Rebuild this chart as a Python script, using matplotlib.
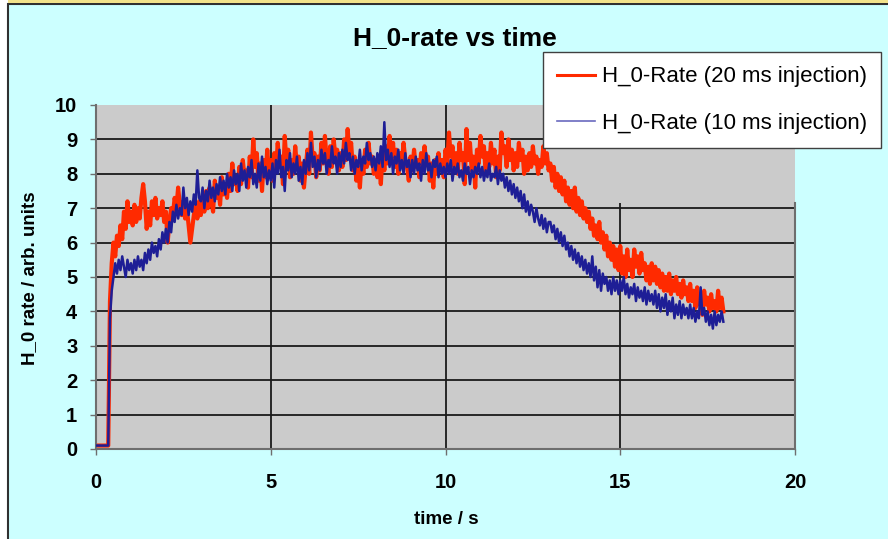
import numpy as np
import matplotlib
matplotlib.use("Agg")
import matplotlib.pyplot as plt
from matplotlib.lines import Line2D
from matplotlib.patches import Rectangle

plt.rcParams['font.family'] = ['Liberation Sans', 'DejaVu Sans']

#%% data: H_0 rate sampled every 50 ms, one row per second

dt = 0.05

rate_20ms = [
    0.1, 0.1, 0.1, 0.1, 0.1, 0.1, 0.1, 0.1, 4.3, 5.4, 6.0, 5.6, 6.2, 5.9, 6.5, 6.1, 6.9, 6.4, 7.2, 6.6,
    6.9, 6.5, 7.1, 6.6, 7.0, 6.7, 7.3, 7.7, 7.2, 6.4, 6.9, 6.5, 7.2, 6.8, 7.3, 6.7, 7.0, 6.8, 7.2, 6.6,
    6.9, 6.0, 6.6, 7.0, 6.8, 7.3, 7.0, 7.6, 7.1, 6.8, 7.2, 6.7, 7.0, 6.5, 6.0, 6.4, 6.8, 7.1, 6.7, 7.2,
    6.8, 7.3, 6.9, 7.5, 7.0, 7.6, 7.2, 6.9, 7.8, 7.3, 7.6, 7.1, 7.9, 7.4, 7.7, 7.3, 8.0, 7.5, 8.3, 7.7,
    7.9, 7.5, 8.2, 7.7, 8.4, 7.9, 8.1, 7.6, 8.5, 7.9, 9.0, 8.2, 8.6, 7.8, 8.3, 7.5, 8.4, 7.9, 8.7, 8.0,
    8.4, 7.8, 8.6, 8.1, 8.9, 8.2, 8.5, 7.7, 9.1, 8.3, 8.7, 7.9, 8.4, 8.0, 8.8, 8.2, 8.5, 7.8, 8.3, 7.6,
    8.2, 8.7, 8.0, 9.2, 8.4, 8.6, 7.9, 8.5, 8.1, 8.9, 8.3, 9.1, 8.4, 8.0, 8.8, 8.2, 9.0, 8.5, 8.7, 8.1,
    8.6, 8.2, 9.0, 8.4, 9.3, 8.6, 8.9, 8.1, 8.5, 7.8, 8.3, 7.6, 8.4, 8.0, 8.7, 8.2, 8.9, 8.3, 8.5, 8.0,
    8.4, 7.9, 8.3, 7.7, 8.6, 8.1, 8.8, 8.3, 9.1, 8.5, 8.9, 8.2, 8.7, 8.0, 8.6, 8.3, 8.9, 8.4, 8.2, 7.8,
    8.5, 8.1, 8.7, 8.2, 8.4, 7.9, 8.6, 8.2, 8.8, 8.3, 8.5, 7.8, 8.3, 7.6, 8.4, 8.0, 8.6, 8.1, 8.4, 7.9,
    8.7, 8.3, 9.2, 8.5, 8.8, 8.2, 8.6, 8.0, 8.9, 8.4, 8.6, 7.7, 9.3, 8.4, 8.9, 8.1, 8.5, 7.6, 8.7, 8.3,
    9.1, 8.5, 8.8, 8.0, 8.6, 8.2, 8.9, 8.3, 8.7, 7.9, 8.5, 8.1, 9.2, 8.6, 8.8, 8.2, 9.0, 8.4, 8.7, 8.1,
    8.6, 8.2, 8.9, 8.4, 8.7, 8.0, 8.5, 8.1, 8.6, 8.2, 8.8, 8.3, 8.5, 8.0, 8.4, 8.2, 8.8, 8.3, 8.6, 8.1,
    8.3, 7.8, 8.2, 7.6, 8.0, 7.5, 7.9, 7.4, 7.8, 7.2, 7.6, 7.1, 7.5, 7.0, 7.6, 6.9, 7.3, 6.8, 7.2, 6.7,
    7.0, 6.6, 6.9, 6.4, 6.7, 6.2, 6.5, 6.1, 6.6, 6.0, 6.3, 5.8, 6.2, 5.6, 6.0, 5.5, 5.9, 5.3, 5.8, 5.2,
    5.9, 5.1, 5.6, 5.0, 5.8, 5.2, 5.5, 5.0, 5.8, 5.3, 5.6, 5.1, 5.7, 5.2, 5.4, 4.9, 5.3, 4.8, 5.4, 4.9,
    5.3, 4.8, 5.2, 4.7, 5.1, 4.6, 5.0, 4.6, 5.1, 4.5, 4.9, 4.6, 5.0, 4.5, 4.8, 4.4, 4.9, 4.5, 4.7, 4.3,
    4.8, 4.3, 4.6, 4.1, 4.7, 4.2, 4.5, 3.9, 4.6, 4.2, 4.4, 4.0, 4.5, 4.1, 4.3, 4.0, 4.6, 4.1, 4.4, 4.0,
]

rate_10ms = [
    0.1, 0.1, 0.1, 0.1, 0.1, 0.1, 0.1, 0.1, 3.8, 4.6, 5.0, 5.4, 5.1, 5.5, 5.2, 5.6, 5.3, 5.0, 5.5, 5.2,
    5.4, 5.1, 5.5, 5.2, 5.6, 5.3, 5.5, 5.2, 5.7, 5.4, 5.8, 5.5, 6.0, 5.7, 5.9, 5.6, 6.1, 5.8, 6.3, 6.0,
    6.4, 6.0, 6.6, 6.3, 6.9, 6.6, 7.1, 6.7, 7.0, 6.8, 7.6, 7.0, 7.3, 6.8, 7.2, 6.9, 7.4, 7.1, 8.1, 7.3,
    7.2, 7.6, 7.0, 7.5, 7.2, 7.8, 7.3, 7.6, 7.2, 7.7, 7.4, 7.9, 7.5, 7.8, 7.4, 8.0, 7.6, 7.9, 7.5, 8.1,
    7.7, 8.0, 7.5, 8.3, 7.8, 8.1, 7.6, 8.2, 7.9, 8.4, 7.7, 8.0, 7.6, 8.3, 7.8, 8.5, 7.9, 8.2, 7.7, 8.1,
    7.8, 8.3, 7.6, 8.4, 8.0, 8.7, 7.9, 8.2, 7.5, 8.4, 8.1, 8.6, 7.9, 8.3, 8.0, 8.5, 7.8, 8.2, 7.7, 8.4,
    8.0, 8.6, 8.1, 8.9, 8.2, 8.5, 7.9, 8.4, 8.1, 8.7, 8.3, 8.6, 8.0, 8.4, 8.2, 8.8, 8.3, 8.5, 8.0, 8.6,
    8.2, 8.7, 8.3, 8.9, 8.4, 8.6, 8.1, 8.5, 8.0, 8.4, 8.2, 8.7, 8.1, 8.5, 8.3, 8.9, 8.4, 8.6, 8.2, 8.5,
    8.1, 8.6, 8.3, 8.8, 8.2, 9.5, 8.4, 8.7, 8.2, 8.6, 8.0, 8.5, 8.3, 8.7, 8.1, 8.4, 8.0, 8.6, 8.2, 8.4,
    7.9, 8.4, 8.0, 8.5, 8.1, 8.3, 7.8, 8.4, 8.0, 8.6, 8.1, 8.3, 7.9, 8.4, 8.2, 8.5, 7.9, 8.3, 8.0, 8.2,
    7.9, 8.3, 8.0, 8.4, 7.8, 8.2, 8.0, 8.3, 7.9, 8.1, 7.8, 8.3, 8.0, 8.2, 7.7, 8.1, 7.9, 8.2, 8.0, 8.3,
    7.9, 8.2, 7.8, 8.1, 7.9, 8.3, 7.8, 8.0, 7.9, 8.2, 7.7, 8.1, 7.8, 8.0, 7.6, 7.9, 7.5, 7.8, 7.4, 7.7,
    7.3, 7.6, 7.2, 7.5, 7.0, 7.4, 6.9, 7.2, 6.8, 7.1, 6.9, 6.6, 7.0, 6.7, 6.5, 6.8, 6.4, 6.7, 6.3, 6.6,
    6.6, 6.3, 6.5, 6.1, 6.4, 6.0, 6.3, 5.9, 6.2, 5.8, 6.0, 5.6, 5.9, 5.5, 5.8, 5.4, 5.7, 5.3, 5.6, 5.2,
    5.5, 5.1, 5.4, 5.0, 5.6, 4.9, 5.3, 4.7, 5.2, 4.6, 5.1, 4.8, 5.0, 4.6, 4.9, 4.5, 5.0, 4.6, 4.9, 4.5,
    4.9, 4.6, 5.0, 4.5, 4.8, 4.4, 4.7, 4.5, 4.8, 4.3, 4.7, 4.4, 4.6, 4.3, 4.7, 4.2, 4.6, 4.3, 4.5, 4.2,
    4.6, 4.1, 4.5, 4.0, 4.4, 4.1, 4.5, 3.9, 4.3, 4.0, 4.4, 3.8, 4.2, 3.9, 4.3, 3.8, 4.2, 3.9, 4.1, 3.8,
    4.2, 3.8, 4.1, 3.7, 4.0, 3.8, 4.7, 3.9, 4.1, 3.7, 4.0, 3.6, 3.9, 3.5, 4.0, 3.6, 3.9, 3.7, 4.0, 3.7,
]

labels = ['H_0-Rate (20 ms injection)', 'H_0-Rate (10 ms injection)']
colors = ['#FF2A00', '#1E1E96']
xticks = [0, 5, 10, 15, 20]
yticks = list(range(0, 11))

time_20 = np.arange(len(rate_20ms)) * dt
time_10 = np.arange(len(rate_10ms)) * dt

#%% figure

W, H = 888, 539
fig = plt.figure(figsize=(W / 100, H / 100), dpi=100, facecolor='white')

# chart frame: cyan sheet with a dark border and a yellow strip on top
fig.patches.append(Rectangle((8 / W, -0.01), 1.0, 1 - 4 / H + 0.01, transform=fig.transFigure,
                             facecolor='#CCFFFF', edgecolor='#303030', lw=1.5, zorder=-2))
fig.patches.append(Rectangle((8 / W, 1 - 3 / H), 1.0, 3 / H, transform=fig.transFigure,
                             facecolor='#F2E28A', edgecolor='none', zorder=-2))

ax = fig.add_axes([96 / W, 1 - 449 / H, 699 / W, 344 / H])
ax.set_facecolor('#CBCBCB')
ax.set_xlim(0, 20)
ax.set_ylim(0, 10)

# grid lines (no line at the very top)
ax.hlines(yticks[1:-1], 0, 20, colors='#1A1A1A', lw=1.3, zorder=1)
ax.vlines(xticks[1:-1], 0, 10, colors='#1A1A1A', lw=1.3, zorder=1)
# plain patch of plot area next to the legend
ax.add_patch(Rectangle((12.8, 7.15), 7.2, 2.85, facecolor='#CBCBCB', edgecolor='none', zorder=1.5))

ax.plot(time_20, rate_20ms, color=colors[0], lw=3.0, zorder=2)
ax.plot(time_10, rate_10ms, color=colors[1], lw=1.8, zorder=3)

ax.spines['top'].set_visible(False)
for s in ['left', 'bottom', 'right']:
    ax.spines[s].set_color('#6E6E6E')
    ax.spines[s].set_linewidth(1.5)
ax.spines['right'].set_bounds(0, 7.15)

ax.set_xticks(xticks)
ax.set_yticks(yticks)
ax.tick_params(axis='both', direction='out', length=4.5, width=1, color='#6E6E6E',
               labelsize=14.5)
ax.tick_params(axis='y', pad=9)
ax.tick_params(axis='x', pad=13)
for lab in ax.get_xticklabels() + ax.get_yticklabels():
    lab.set_fontweight('bold')

fig.text(455 / W, 1 - 38 / H, 'H_0-rate vs time', ha='center', va='center',
         fontsize=19, fontweight='bold')
fig.text(446 / W, 1 - 519 / H, 'time / s', ha='center', va='center',
         fontsize=13.5, fontweight='bold')
fig.text(30 / W, 1 - 278 / H, 'H_0 rate / arb. units', ha='center', va='center',
         rotation=90, fontsize=13.5, fontweight='bold')

handles = [Line2D([], [], color=colors[0], lw=2.2),
           Line2D([], [], color='#6A6ABF', lw=1.2)]
leg = fig.legend(handles, labels, loc='upper left', bbox_to_anchor=(543 / W, 1 - 52 / H),
                 bbox_transform=fig.transFigure, fontsize=16, frameon=True, fancybox=False,
                 framealpha=1, edgecolor='#404040', handlelength=1.7, handletextpad=0.3,
                 labelspacing=1.15, borderpad=0.65, borderaxespad=0)
leg.get_frame().set_linewidth(1.0)

fig.savefig('out.png', dpi=100)
